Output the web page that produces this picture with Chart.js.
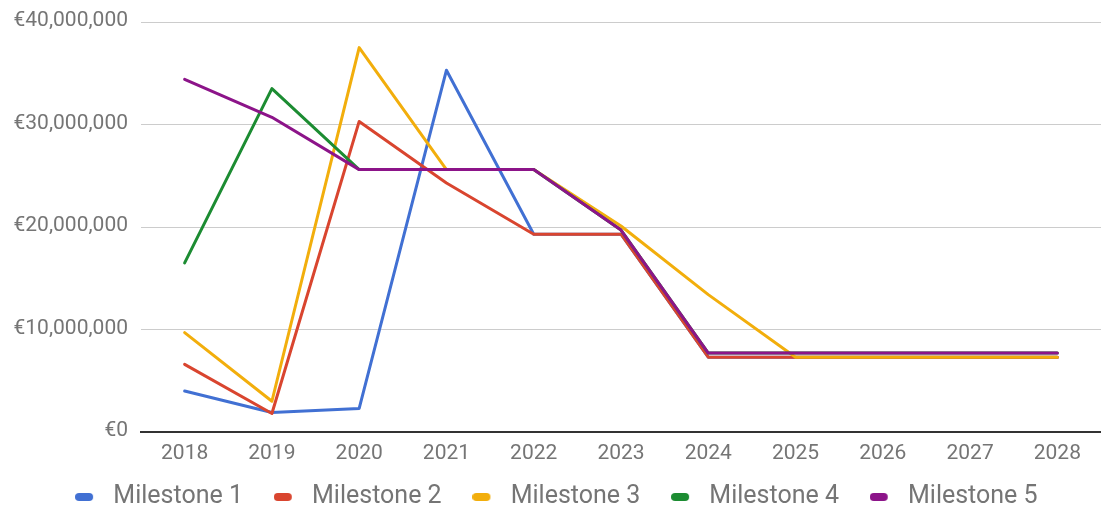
<!DOCTYPE html>
<html>
<head>
<meta charset="utf-8">
<title>Milestones</title>
<script src="https://cdn.jsdelivr.net/npm/chart.js@4/dist/chart.umd.min.js"></script>
<style>
  html, body { margin: 0; padding: 0; background: #ffffff; overflow: hidden; }
  canvas { display: block; }
</style>
</head>
<body>
<canvas id="chart" width="1101" height="511"></canvas>
<script>
// Years on the horizontal axis
const years = ['2018', '2019', '2020', '2021', '2022', '2023', '2024', '2025', '2026', '2027', '2028'];

// Amounts per milestone, in euros
const milestone1 = [4000000, 1900000, 2300000, 35300000, 19300000, 19300000, 7300000, 7300000, 7300000, 7300000, 7300000];
const milestone2 = [6600000, 1800000, 30300000, 24300000, 19300000, 19300000, 7300000, 7300000, 7300000, 7300000, 7300000];
const milestone3 = [9700000, 3000000, 37500000, 25600000, 25600000, 20100000, 13400000, 7300000, 7300000, 7300000, 7300000];
const milestone4 = [16500000, 33500000, 25600000, 25600000, 25600000, 19700000, 7700000, 7700000, 7700000, 7700000, 7700000];
const milestone5 = [34400000, 30700000, 25600000, 25600000, 25600000, 19700000, 7700000, 7700000, 7700000, 7700000, 7700000];

// Y-axis ticks
const yTicks = [0, 10000000, 20000000, 30000000, 40000000];

const seriesNames = ['Milestone 1', 'Milestone 2', 'Milestone 3', 'Milestone 4', 'Milestone 5'];
const seriesValues = [milestone1, milestone2, milestone3, milestone4, milestone5];
const seriesColors = ['#4170d3', '#d9452f', '#f2ae0c', '#1c8c32', '#8c1489'];

// Small pill-shaped legend markers
function makeMarker(color) {
  const c = document.createElement('canvas');
  c.width = 26;
  c.height = 10;
  const g = c.getContext('2d');
  g.fillStyle = color;
  g.beginPath();
  g.roundRect(0, 1, 18, 8, 4);
  g.fill();
  return c;
}
const markers = seriesColors.map(makeMarker);

const datasets = seriesNames.map((name, i) => ({
  label: name,
  data: seriesValues[i],
  borderColor: seriesColors[i],
  backgroundColor: seriesColors[i],
  borderWidth: 3,
  pointRadius: 0,
  tension: 0,
  borderJoinStyle: 'round',
  borderCapStyle: 'round',
  fill: false,
  order: seriesNames.length - i   // later series are drawn on top
}));

// Places the legend row below the axis labels
const legendPlacement = {
  id: 'legendPlacement',
  afterLayout(chart) {
    const l = chart.legend;
    if (l) {
      l.top = 453.5;
      l.bottom = chart.height;
      l.height = l.bottom - l.top;
      l.left += 6;
      l.right += 6;
    }
  }
};

const tickFont = { family: 'Roboto', size: 21 };

new Chart(document.getElementById('chart'), {
  type: 'line',
  data: { labels: years, datasets },
  plugins: [legendPlacement],
  options: {
    responsive: false,
    animation: false,
    layout: { padding: { top: 22, left: 0, right: 0, bottom: 0 } },
    plugins: {
      tooltip: { enabled: false },
      legend: {
        position: 'bottom',
        align: 'center',
        maxHeight: 39,
        labels: {
          font: { family: 'Roboto', size: 25 },
          color: '#757575',
          padding: 31,
          usePointStyle: true,
          pointStyleWidth: 25.5,
          sort: (a, b) => a.datasetIndex - b.datasetIndex,
          generateLabels(chart) {
            const items = Chart.defaults.plugins.legend.labels.generateLabels(chart);
            items.forEach(it => { it.pointStyle = markers[it.datasetIndex]; });
            return items;
          }
        }
      }
    },
    scales: {
      x: {
        type: 'category',
        offset: true,
        grid: { display: false, drawTicks: false },
        border: { display: true, color: '#333333', width: 2 },
        ticks: { font: tickFont, color: '#757575', padding: 9, maxRotation: 0, autoSkip: false },
        afterFit(scale) { scale.height = 40; }
      },
      y: {
        min: 0,
        max: 40000000,
        afterBuildTicks(scale) { scale.ticks = yTicks.map(v => ({ value: v })); },
        grid: { color: '#cccccc', lineWidth: 1, drawTicks: false },
        border: { display: false },
        ticks: {
          font: tickFont,
          color: '#757575',
          padding: 13,
          labelOffset: -1,
          callback: v => '€' + Number(v).toLocaleString('en-US')
        },
        afterFit(scale) {
          scale.width = 141;
          scale.paddingTop = 0;
          scale.paddingBottom = 0;
        }
      }
    }
  }
});
</script>
</body>
</html>
